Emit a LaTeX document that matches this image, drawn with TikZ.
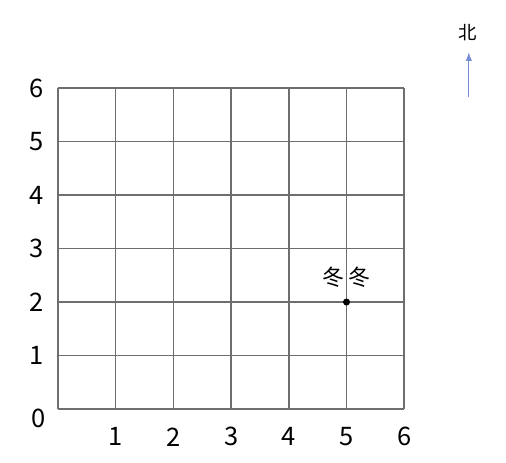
\documentclass[tikz,border=0pt]{standalone}
\usepackage{fontspec}
\setmainfont{Noto Sans CJK SC}
\usetikzlibrary{arrows.meta}
\usetikzlibrary{positioning}

\definecolor{northblue}{RGB}{120,140,215}
\definecolor{gridgray}{RGB}{110,110,110}

\tikzset{
  gridline/.style={draw=gridgray,line width=0.9pt},
  axislabel/.style={inner sep=0pt,font=\fontsize{14.5}{15}\selectfont},
  dot/.style={circle,fill=black,inner sep=0pt,minimum size=4pt},
}

\begin{document}
\begin{tikzpicture}[x=1.154cm,y=1.07cm]
  \useasboundingbox (-1.005,-0.99) rectangle (7.764,7.645);

  % the grid
  \foreach \i in {0,...,6}{
    \draw[gridline] (\i,0) -- (\i,6);
    \draw[gridline] (0,\i) -- (6,\i);
  }

  % labels on the axes
  \node[axislabel] (y0) at (-0.33,-0.17) {0};
  \foreach \n in {1,...,6}{
    \node[axislabel] (y\n) at (-0.37,\n) {\n};
    \node[axislabel] (x\n) at (\n,-0.52) {\n};
  }

  % the point
  \node[dot] (dd) at (5,2) {};
  \node[inner sep=0pt,font=\fontsize{12.5}{13}\selectfont] (ddname) [above=0.2 of dd] {冬\,冬};

  % north arrow
  \node[inner sep=0pt,font=\fontsize{10.5}{11}\selectfont] (north) at (7.106,7.028) {北};
  \coordinate (ntail) at (7.12,5.83);
  \coordinate (ntip)  at (7.12,6.67);
  \draw[northblue,line width=0.6pt,-{Latex[length=5pt,width=3.6pt]}] (ntail) -- (ntip);
\end{tikzpicture}
\end{document}
